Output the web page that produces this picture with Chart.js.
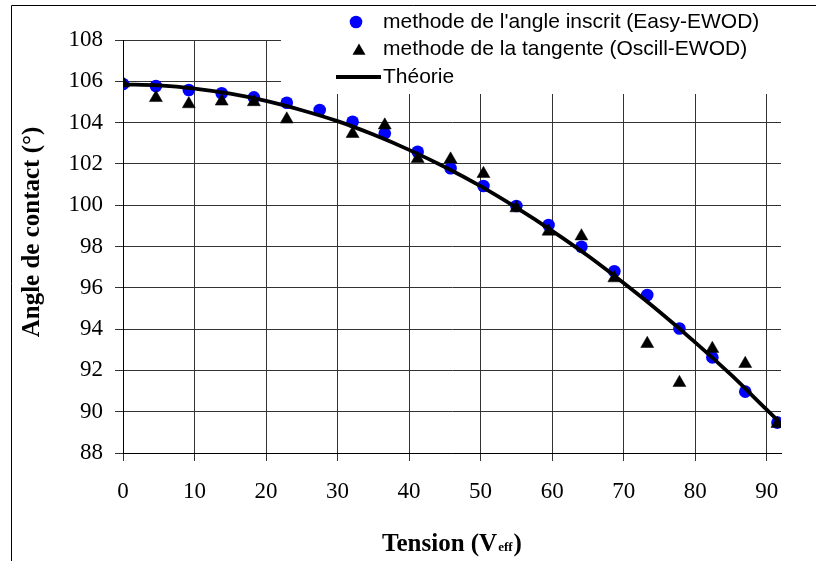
<!DOCTYPE html>
<html><head><meta charset="utf-8">
<script src="https://cdn.jsdelivr.net/npm/chart.js@4/dist/chart.umd.min.js"></script>
<style>html,body{margin:0;padding:0;background:#fff;overflow:hidden}</style>
</head><body>
<canvas id="c" width="816" height="561"></canvas>
<script>
// ---- data ----
const seriesLabels = ["methode de l'angle inscrit (Easy-EWOD)", "methode de la tangente (Oscill-EWOD)", "Théorie"];
const voltagesInscrit = [0, 4.6, 9.2, 13.8, 18.3, 22.9, 27.5, 32.1, 36.6, 41.2, 45.8, 50.4, 55.0, 59.5, 64.1, 68.7, 73.3, 77.8, 82.4, 87.0, 91.5];
const anglesInscrit   = [105.87, 105.77, 105.58, 105.42, 105.22, 104.96, 104.61, 104.04, 103.48, 102.59, 101.79, 100.93, 99.96, 99.04, 97.99, 96.80, 95.65, 94.03, 92.63, 90.97, 89.47];
const voltagesTangente = [0, 4.6, 9.2, 13.8, 18.3, 22.9, 32.1, 36.6, 41.2, 45.8, 50.4, 55.0, 59.5, 64.1, 68.7, 73.3, 77.8, 82.4, 87.0, 91.5];
const anglesTangente   = [105.9, 105.2, 104.9, 105.03, 105.0, 104.16, 103.46, 103.87, 102.25, 102.22, 101.52, 99.86, 98.73, 98.5, 96.47, 93.29, 91.4, 93.05, 92.32, 89.42];
const voltagesTheorie = [0, 5, 10, 15, 20, 25, 30, 35, 40, 45, 50, 55, 60, 65, 70, 75, 80, 85, 90, 91.5];
const anglesTheorie   = [105.85, 105.80, 105.65, 105.40, 105.05, 104.60, 104.07, 103.42, 102.68, 101.85, 100.92, 99.88, 98.76, 97.55, 96.23, 94.84, 93.36, 91.79, 90.10, 89.60];
const xTickValues = [0, 10, 20, 30, 40, 50, 60, 70, 80, 90];
const yTickValues = [88, 90, 92, 94, 96, 98, 100, 102, 104, 106, 108];
const xTitleMain = "Tension (V";
const xTitleSub = "eff";
const xTitleEnd = ")";
const yTitle = "Angle de contact (°)";

const zip = (xs, ys) => xs.map((x, i) => ({x: x, y: ys[i]}));

const SERIF = "'Liberation Serif', 'Times New Roman', serif";
const SANS = "'Liberation Sans', Arial, sans-serif";

const decorPlugin = {
  id: 'decor',
  beforeDatasetsDraw(chart) {
    const ctx = chart.ctx;
    const ds = chart.data.datasets;
    ctx.save();
    // white legend box hiding part of the grid
    ctx.fillStyle = '#fff';
    ctx.fillRect(281, 7, 816 - 281, 87);
    // legend entries
    const rows = [22, 49.5, 77];
    const tx = 383;
    ctx.font = '21px ' + SANS;
    ctx.textBaseline = 'middle';
    ctx.textAlign = 'left';
    // circle
    ctx.beginPath();
    ctx.fillStyle = ds[2].backgroundColor;
    ctx.arc(356, rows[0], ds[2].pointRadius, 0, Math.PI * 2);
    ctx.fill();
    // triangle
    const r = ds[1].pointRadius;
    ctx.beginPath();
    ctx.fillStyle = ds[1].backgroundColor;
    for (let k = 0; k < 3; k++) {
      const a = k * 2 * Math.PI / 3;
      const px = 359 + Math.sin(a) * r, py = rows[1] + 1.5 - Math.cos(a) * r;
      if (k === 0) ctx.moveTo(px, py); else ctx.lineTo(px, py);
    }
    ctx.closePath();
    ctx.fill();
    // line
    ctx.beginPath();
    ctx.strokeStyle = ds[0].borderColor;
    ctx.lineWidth = ds[0].borderWidth;
    ctx.moveTo(336, rows[2]);
    ctx.lineTo(381, rows[2]);
    ctx.stroke();
    ctx.fillStyle = '#000';
    ctx.fillText(ds[2].label, tx, rows[0]);
    ctx.fillText(ds[1].label, tx, rows[1]);
    ctx.fillText(ds[0].label, tx, rows[2]);
    ctx.restore();
  },
  afterDraw(chart) {
    const ctx = chart.ctx;
    const ca = chart.chartArea;
    ctx.save();
    // outer chart border (partly outside the picture)
    ctx.strokeStyle = '#000';
    ctx.lineWidth = 1;
    ctx.beginPath();
    ctx.moveTo(11.5, 561);
    ctx.lineTo(11.5, 5.5);
    ctx.lineTo(816, 5.5);
    ctx.stroke();
    // y axis title
    ctx.save();
    ctx.translate(33, 232);
    ctx.rotate(-Math.PI / 2);
    ctx.font = 'bold 25px ' + SERIF;
    ctx.fillStyle = '#000';
    ctx.textAlign = 'center';
    ctx.textBaseline = 'middle';
    ctx.fillText(yTitle, 0, 0);
    ctx.restore();
    // x axis title with subscript
    const fMain = 'bold 25px ' + SERIF;
    const fSub = 'bold 13px ' + SERIF;
    ctx.font = fMain; const w1 = ctx.measureText(xTitleMain).width; const w3 = ctx.measureText(xTitleEnd).width;
    ctx.font = fSub; const w2 = ctx.measureText(xTitleSub).width + 2;
    const total = w1 + w2 + w3;
    let x = (ca.left + ca.right) / 2 - total / 2;
    const base = 551;
    ctx.fillStyle = '#000';
    ctx.textBaseline = 'alphabetic';
    ctx.textAlign = 'left';
    ctx.font = fMain; ctx.fillText(xTitleMain, x, base); x += w1;
    ctx.font = fSub; ctx.fillText(xTitleSub, x + 1, base); x += w2;
    ctx.font = fMain; ctx.fillText(xTitleEnd, x, base);
    ctx.restore();
  }
};

new Chart(document.getElementById('c'), {
  type: 'scatter',
  data: {
    datasets: [
      {
        label: seriesLabels[2],
        data: zip(voltagesTheorie, anglesTheorie),
        showLine: true,
        borderColor: '#000',
        backgroundColor: '#000',
        borderWidth: 3.8,
        pointRadius: 0,
        cubicInterpolationMode: 'monotone',
        order: 0
      },
      {
        label: seriesLabels[1],
        data: zip(voltagesTangente, anglesTangente),
        pointStyle: 'triangle',
        pointRadius: 7.5,
        backgroundColor: '#000',
        borderColor: '#000',
        borderWidth: 0.5,
        order: 1
      },
      {
        label: seriesLabels[0],
        data: zip(voltagesInscrit, anglesInscrit),
        pointStyle: 'circle',
        pointRadius: 6.3,
        backgroundColor: '#0000ff',
        borderColor: '#0000ff',
        borderWidth: 0,
        order: 2
      }
    ]
  },
  options: {
    responsive: false,
    animation: false,
    devicePixelRatio: 1,
    layout: { padding: { left: 18, top: 40, right: 35, bottom: 0 } },
    plugins: { legend: { display: false }, tooltip: { enabled: false } },
    scales: {
      x: {
        type: 'linear',
        min: 0, max: 92,
        afterBuildTicks: s => { s.ticks = xTickValues.map(v => ({value: v})); },
        afterFit: s => { s.height = 561 - 453; },
        grid: { color: '#333', lineWidth: 1, tickLength: 8, drawTicks: true },
        border: { display: true, color: '#000', width: 1 },
        ticks: { color: '#000', font: { family: SERIF, size: 23 }, padding: 17, maxRotation: 0 },
        title: { display: false }
      },
      y: {
        type: 'linear',
        min: 88, max: 108,
        afterBuildTicks: s => { s.ticks = yTickValues.map(v => ({value: v})); },
        afterFit: s => { s.width = 123 - 18; },
        grid: { color: '#333', lineWidth: 1, tickLength: 8, drawTicks: true },
        border: { display: true, color: '#000', width: 1 },
        ticks: { color: '#000', font: { family: SERIF, size: 23 }, padding: 12 },
        title: { display: false, text: yTitle }
      }
    }
  },
  plugins: [decorPlugin]
});
</script>
</body></html>
